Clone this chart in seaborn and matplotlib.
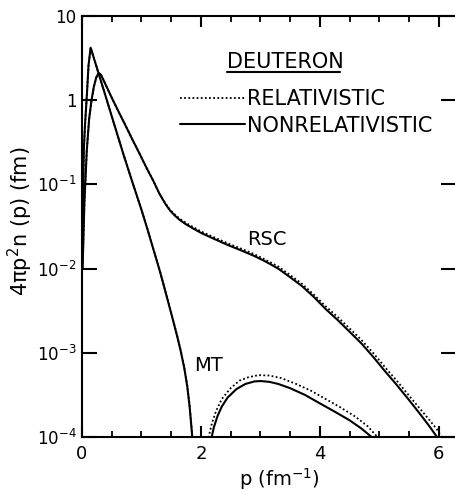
import numpy as np
import pandas as pd
import matplotlib
matplotlib.use("Agg")
import matplotlib.pyplot as plt
from matplotlib.lines import Line2D
from matplotlib.ticker import FixedLocator, FuncFormatter, MultipleLocator
import seaborn as sns

# ---------------- data ----------------
# RSC, nonrelativistic (solid)
rsc_p = [0.01, 0.04, 0.08, 0.12, 0.16, 0.20, 0.24, 0.27, 0.29, 0.32, 0.36, 0.44,
         0.52, 0.62, 0.72, 0.84, 0.97, 1.10, 1.20, 1.30, 1.40, 1.48, 1.56, 1.64,
         1.74, 1.86, 2.00, 2.20, 2.45, 2.70, 2.90, 3.10, 3.30, 3.50, 3.70, 3.90,
         4.10, 4.30, 4.50, 4.70, 4.90, 5.10, 5.30, 5.50, 5.70, 5.85, 5.97, 6.05]
rsc_nr = [0.01, 0.06, 0.25, 0.60, 1.00, 1.45, 1.86, 2.04, 2.09, 2.00, 1.74, 1.32,
          1.00, 0.72, 0.52, 0.35, 0.23, 0.15, 0.11, 0.078, 0.059, 0.049, 0.0427,
          0.0380, 0.0339, 0.0302, 0.0266, 0.0229, 0.0191, 0.0162, 0.0141, 0.0120,
          0.0100, 0.0079, 0.0062, 0.0046, 0.0033, 0.00245, 0.00178, 0.00129,
          0.00089, 0.00060, 0.00041, 0.000275, 0.000182, 0.000132, 0.00010,
          0.00008]
# RSC, relativistic (dotted)
rsc_rel_p = [0.01, 0.04, 0.08, 0.12, 0.16, 0.20, 0.24, 0.27, 0.29, 0.32, 0.36, 0.44,
             0.52, 0.62, 0.72, 0.84, 0.97, 1.10, 1.20, 1.30, 1.40, 1.48, 1.56, 1.64,
             1.74, 1.86, 2.00, 2.20, 2.45, 2.70, 2.90, 3.10, 3.30, 3.50, 3.70, 3.90,
             4.10, 4.30, 4.50, 4.70, 4.90, 5.10, 5.30, 5.50, 5.70, 5.85, 5.97, 6.03,
             6.10]
rsc_rel = [0.01, 0.06, 0.25, 0.60, 1.00, 1.45, 1.86, 2.04, 2.09, 2.00, 1.74, 1.32,
           1.00, 0.72, 0.52, 0.35, 0.23, 0.15, 0.11, 0.078, 0.060, 0.050, 0.0440,
           0.0393, 0.0352, 0.0314, 0.0277, 0.0239, 0.0200, 0.0170, 0.0148, 0.0126,
           0.0106, 0.0084, 0.0066, 0.0049, 0.00356, 0.00266, 0.00195, 0.00142,
           0.00099, 0.00067, 0.00046, 0.00031, 0.00021, 0.000157, 0.000123,
           0.000105, 0.00008]

# MT, first lobe (relativistic and nonrelativistic nearly coincide)
mt1_p = [0.01, 0.03, 0.05, 0.08, 0.11, 0.145, 0.20, 0.30, 0.40, 0.50, 0.60, 0.70,
         0.85, 1.00, 1.10, 1.20, 1.31, 1.42, 1.53, 1.60, 1.66, 1.72, 1.77, 1.81,
         1.84, 1.86, 1.90]
mt1_nr = [0.03, 0.25, 0.50, 1.10, 2.60, 4.20, 3.16, 1.86, 1.10, 0.645, 0.38, 0.224,
          0.105, 0.050, 0.0295, 0.0170, 0.0093, 0.0048, 0.00245, 0.00158, 0.00105,
          0.00066, 0.00040, 0.00023, 0.000132, 0.000089, 0.000025]
mt1_rel = [0.03, 0.25, 0.50, 1.10, 2.60, 4.20, 3.16, 1.86, 1.10, 0.645, 0.38, 0.224,
           0.105, 0.050, 0.0296, 0.0171, 0.0094, 0.00485, 0.00248, 0.00160,
           0.00107, 0.00067, 0.00041, 0.000235, 0.000135, 0.000091, 0.000026]

# MT, second lobe
mt2_p = [2.12, 2.18, 2.22, 2.28, 2.35, 2.45, 2.60, 2.75, 2.90, 3.00, 3.15, 3.30,
         3.50, 3.75, 4.00, 4.25, 4.50, 4.70, 4.87, 4.95]
mt2_nr = [0.00005, 0.00010, 0.000132, 0.000178, 0.000229, 0.000295, 0.000372,
          0.000427, 0.000457, 0.000462, 0.000452, 0.000427, 0.00038, 0.000316,
          0.000251, 0.00020, 0.000158, 0.000126, 0.00010, 0.000079]
mt2_rel_p = [2.07, 2.13, 2.18, 2.25, 2.35, 2.50, 2.65, 2.80, 2.97, 3.15, 3.35, 3.60,
             3.85, 4.10, 4.35, 4.60, 4.80, 4.97, 5.05]
mt2_rel = [0.00005, 0.00010, 0.000141, 0.00020, 0.000282, 0.00038, 0.000468,
           0.000513, 0.000543, 0.000537, 0.000501, 0.000427, 0.000355, 0.000282,
           0.000224, 0.000174, 0.000135, 0.00010, 0.000079]

y_ticks = [1e-4, 1e-3, 1e-2, 1e-1, 1, 10]
x_ticks = [0, 2, 4, 6]

# ---------------- figure ----------------
sns.set_theme(style="ticks")
plt.rcParams["font.family"] = ["DejaVu Sans"]
plt.rcParams["mathtext.fontset"] = "dejavusans"
for k in ["text.color", "axes.labelcolor", "xtick.color", "ytick.color",
          "axes.edgecolor"]:
    plt.rcParams[k] = "black"

fig = plt.figure(figsize=(4.56, 4.91), dpi=100)
ax = fig.add_axes([82 / 456, 1 - 437 / 491, 374 / 456, 421 / 491])

solid_kw = dict(color="black", linewidth=1.5, estimator=None, sort=False, ax=ax)
dot_kw = dict(color="black", linewidth=1.3, linestyle=(0, (1, 1.3)),
              estimator=None, sort=False, ax=ax)

sns.lineplot(x=rsc_rel_p, y=rsc_rel, **dot_kw)
sns.lineplot(x=mt1_p, y=mt1_rel, **dot_kw)
sns.lineplot(x=mt2_rel_p, y=mt2_rel, **dot_kw)
sns.lineplot(x=rsc_p, y=rsc_nr, **solid_kw)
sns.lineplot(x=mt1_p, y=mt1_nr, **solid_kw)
sns.lineplot(x=mt2_p, y=mt2_nr, **solid_kw)

ax.set_yscale("log")
ax.set_ylim(1e-4, 10)
ax.set_xlim(0, 6.29)

ax.yaxis.set_major_locator(FixedLocator(y_ticks))
ax.yaxis.set_minor_locator(FixedLocator([]))


def yfmt(v, pos):
    e = int(round(np.log10(v)))
    if e == 1:
        return "10"
    if e == 0:
        return "1"
    return r"$10^{%d}$" % e


ax.yaxis.set_major_formatter(FuncFormatter(yfmt))
ax.xaxis.set_major_locator(FixedLocator(x_ticks))
ax.xaxis.set_minor_locator(MultipleLocator(0.5))

for s in ["left", "bottom", "top"]:
    ax.spines[s].set_linewidth(1.5)
    ax.spines[s].set_color("black")
ax.spines["right"].set_visible(False)

ax.tick_params(axis="x", which="major", direction="in", length=8, width=1.5,
               top=True, labelsize=13, pad=6)
ax.tick_params(axis="x", which="minor", direction="in", length=4, width=1.3,
               top=True)
ax.tick_params(axis="y", which="major", direction="in", length=11, width=1.5,
               right=True, labelsize=12, pad=4)

ax.set_xlabel(r"p (fm$^{-1}$)", fontsize=14)
ax.xaxis.set_label_coords(0.529, -0.068)
ax.set_ylabel("4\u03c0p$^2$n (p) (fm)", fontsize=15)
ax.yaxis.set_label_coords(-0.125, 0.513)

# legend
handles = [Line2D([], [], color="black", linewidth=1.3, linestyle=(0, (1, 1.3))),
           Line2D([], [], color="black", linewidth=1.5)]
leg = ax.legend(handles, ["RELATIVISTIC", "NONRELATIVISTIC"], loc="upper left",
                bbox_to_anchor=(0.262, 0.826), frameon=False, fontsize=15,
                handlelength=3.1, handletextpad=0.1, labelspacing=0.3,
                borderpad=0, borderaxespad=0)

ax.text(0.388, 0.891, "DEUTERON", transform=ax.transAxes, fontsize=15,
        ha="left", va="center")
ax.plot([0.388, 0.690], [0.866, 0.866], transform=ax.transAxes, color="black",
        linewidth=1.5, clip_on=False)

ax.text(3.11, 0.022, "RSC", fontsize=14, ha="center", va="center")
ax.text(2.13, 7.0e-4, "MT", fontsize=14, ha="center", va="center")

fig.savefig("out.png", dpi=100)
